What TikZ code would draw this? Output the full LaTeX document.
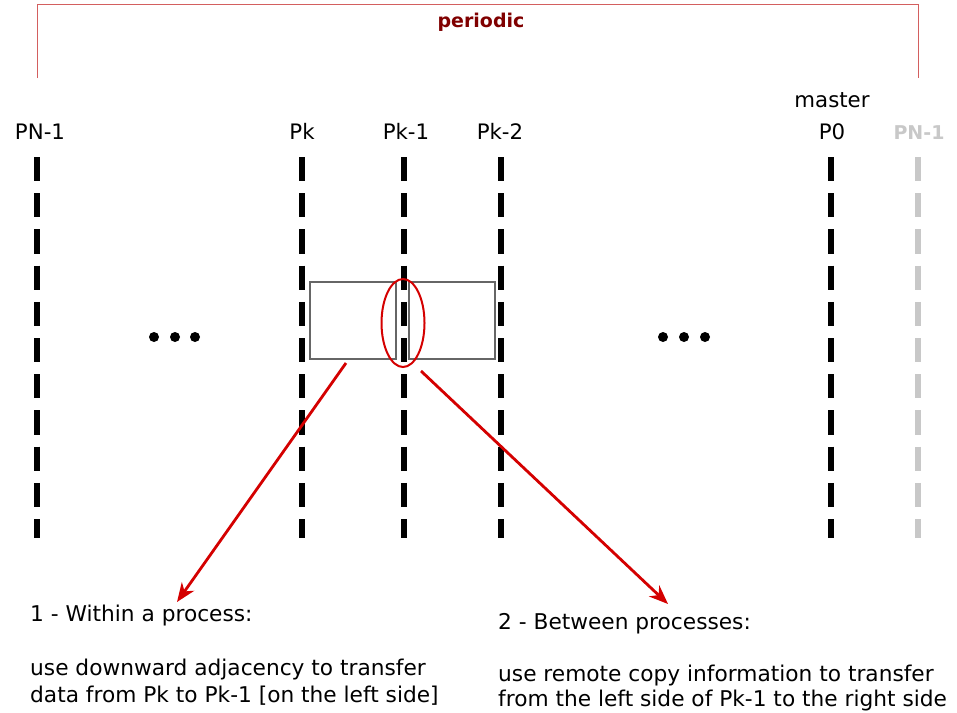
\documentclass[tikz,border=0pt]{standalone}
\usepackage{fontspec}
\setmainfont{DejaVu Sans}
\usetikzlibrary{arrows.meta,shapes.geometric}
\definecolor{arrred}{HTML}{D40000}
\definecolor{brred}{HTML}{D35F5F}
\definecolor{darkred}{HTML}{800000}
\definecolor{ghost}{HTML}{C8C8C8}
\tikzset{
  proc/.style={line width=6.5pt, dash pattern=on 24.2pt off 12pt},
  lbl/.style={inner sep=0pt, anchor=base, font=\fontsize{21.3}{25}\selectfont},
  txt/.style={inner sep=0pt, anchor=base west, font=\fontsize{21.7}{25}\selectfont},
  boxr/.style={draw=black!60, line width=1.2pt, inner sep=0pt},
  redarrow/.style={arrred, line width=2.8pt, -{Stealth[length=19pt,width=15pt,inset=6pt]}},
  dot/.style={circle, fill=black, inner sep=0pt, minimum size=10pt}
}
\begin{document}
\begin{tikzpicture}[x=1pt,y=-1pt]
\useasboundingbox (0,0) rectangle (957,712);
% periodic bracket
\draw[brred, line width=1pt] (37,78) -- (37,4) -- (918,4) -- (918,78);
\node[inner sep=0pt, anchor=base, text=darkred, font=\fontsize{19}{22}\selectfont\bfseries] (per) at (481,27) {periodic};
% labels
\node[lbl] (lN) at (40,139) {PN-1};
\node[lbl] (lk) at (302,139) {Pk};
\node[lbl] (lk1) at (406,139) {Pk-1};
\node[lbl] (lk2) at (500,139) {Pk-2};
\node[lbl] (l0) at (832,139) {P0};
\node[lbl] (lm) at (832,107) {master};
\node[inner sep=0pt, anchor=base, text=ghost, font=\fontsize{19}{22}\selectfont\bfseries] (lg) at (919,139) {PN-1};
% process lines
\draw[proc] (37,157) -- (37,538);
\draw[proc] (302,157) -- (302,538);
\draw[proc] (404,157) -- (404,538);
\draw[proc] (501,157) -- (501,538);
\draw[proc] (831,157) -- (831,538);
\draw[proc, ghost] (918,157) -- (918,538);
% dots
\node[dot] (d1) at (154,337) {};
\node[dot] (d2) at (175,337) {};
\node[dot] (d3) at (195,337) {};
\node[dot] (d4) at (663,337) {};
\node[dot] (d5) at (684,337) {};
\node[dot] (d6) at (705,337) {};
% boxes
\node[boxr, minimum width=86pt, minimum height=77pt] (bl) at (353,320.5) {};
\node[boxr, minimum width=86pt, minimum height=77pt] (br) at (452,320.5) {};
\node[ellipse, draw=arrred, line width=2pt, minimum width=43pt, minimum height=88pt, inner sep=0pt] (el) at (403,323) {};
% texts
\node[txt] (t1) at (30,621) {1 - Within a process:};
\node[txt] (t2) at (30,675) {use downward adjacency to transfer};
\node[txt] (t3) at (30,702) {data from Pk to Pk-1 [on the left side]};
\node[txt] (r1) at (498,629) {2 - Between processes:};
\node[txt] (r2) at (498,681) {use remote copy information to transfer};
\node[txt] (r3) at (498,706) {from the left side of Pk-1 to the right side};
% arrows
\coordinate (a1s) at (346,363);
\coordinate (a1e) at (177,602);
\coordinate (a2s) at (421,371);
\coordinate (a2e) at (668,604);
\draw[redarrow] (a1s) -- (a1e);
\draw[redarrow] (a2s) -- (a2e);
\end{tikzpicture}
\end{document}
